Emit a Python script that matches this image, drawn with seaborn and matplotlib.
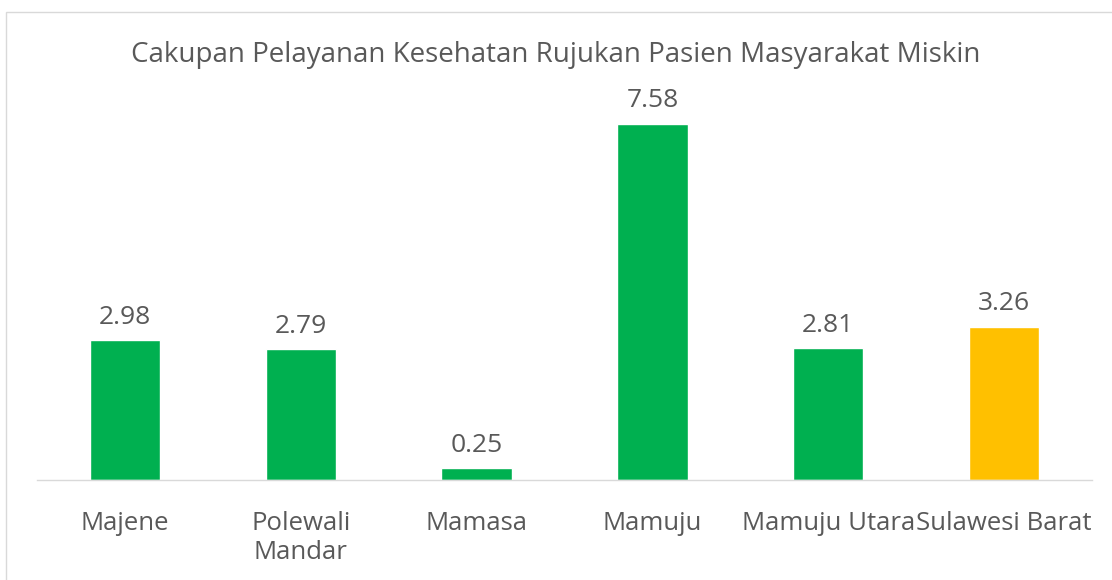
import pandas as pd
import seaborn as sns
import matplotlib.pyplot as plt
from matplotlib.patches import Rectangle

# data
kabupaten = ['Majene', 'Polewali\nMandar', 'Mamasa', 'Mamuju', 'Mamuju Utara', 'Sulawesi Barat']
cakupan = [2.98, 2.79, 0.25, 7.58, 2.81, 3.26]
warna = ['#00B050', '#00B050', '#00B050', '#00B050', '#00B050', '#FFC000']

df = pd.DataFrame({'Kabupaten': kabupaten, 'Cakupan': cakupan})

sns.set_style('white')
plt.rcParams['font.family'] = ['Open Sans', 'DejaVu Sans']
text_color = '#595959'

fig = plt.figure(figsize=(11.12, 5.8), dpi=100)
ax = fig.add_axes([0.0333, 0.1724, 0.9487, 0.6483])

sns.barplot(data=df, x='Kabupaten', y='Cakupan', hue='Kabupaten',
            palette=warna, width=0.4, legend=False, ax=ax, saturation=1)

for i, v in enumerate(cakupan):
    ax.text(i, v + 0.22, f'{v:.2f}', ha='center', va='bottom',
            fontsize=19, color=text_color)

ax.set_ylim(0, 8)
ax.set_xlim(-0.5, len(kabupaten) - 0.5)
ax.set_xlabel('')
ax.set_ylabel('')
ax.set_yticks([])
ax.tick_params(axis='x', length=0, labelsize=18.5, labelcolor=text_color, pad=22)
for lbl in ax.get_xticklabels():
    lbl.set_linespacing(1.25)
for s in ['top', 'right', 'left']:
    ax.spines[s].set_visible(False)
ax.spines['bottom'].set_color('#D9D9D9')
ax.spines['bottom'].set_linewidth(1)

fig.text(0.5, 0.905, 'Cakupan Pelayanan Kesehatan Rujukan Pasien Masyarakat Miskin',
         ha='center', va='center', fontsize=20, color=text_color)

# chart border (only top and left edge are inside the crop)
fig.patches.append(Rectangle((6 / 1112, -0.1), 1.2, 1.1 - 12 / 580, transform=fig.transFigure,
                             fill=False, edgecolor='#D9D9D9', linewidth=1))

plt.savefig('out.png', dpi=100)
